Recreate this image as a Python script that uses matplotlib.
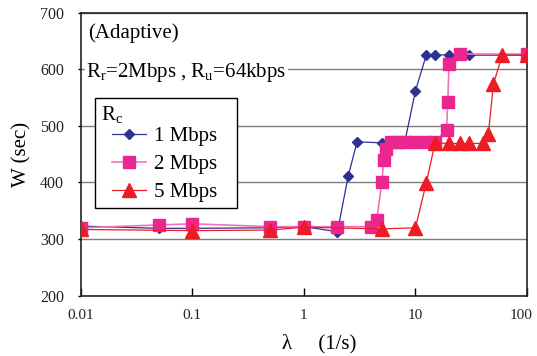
import matplotlib
matplotlib.use("Agg")
import matplotlib.pyplot as plt
import matplotlib.transforms as mtransforms
from matplotlib.offsetbox import HPacker, DrawingArea

plt.rcParams['font.family'] = ['Liberation Serif', 'DejaVu Serif']
plt.rcParams['mathtext.fontset'] = 'custom'
plt.rcParams['mathtext.rm'] = 'Liberation Serif'
plt.rcParams['mathtext.it'] = 'Liberation Serif:italic'

# data (lambda in 1/s, W in sec)
blue_x = [0.01, 0.05, 0.1, 0.5, 1, 2, 2.5, 3, 5, 8, 10, 12.5, 15, 20, 30, 100]
blue_y = [323, 319, 319, 320, 322, 313, 412, 472, 470, 470, 562, 625, 625, 626, 625, 625]

pink_x = [0.01, 0.05, 0.1, 0.5, 1, 2, 4, 4.5, 5, 5.2, 5.5, 6, 7, 8, 10, 12.5, 15,
          19, 19.5, 20, 25, 100]
pink_y = [320, 325, 327, 322, 322, 322, 322, 334, 400, 440, 460, 472, 472, 472, 472,
          472, 472, 493, 543, 609, 627, 627]

red_x = [0.01, 0.1, 0.5, 1, 5, 10, 12.5, 15, 20, 25, 30, 40, 45, 50, 60, 100]
red_y = [317, 315, 316, 321, 318, 320, 399, 470, 469, 469, 469, 469, 485, 574, 625, 625]

labels = ['1 Mbps', '2 Mbps', '5 Mbps']
xticks = [0.01, 0.1, 1, 10, 100]
xticklabels = ['0.01', '0.1', '1', '10', '100']
yticks = [200, 300, 400, 500, 600, 700]

fig = plt.figure(figsize=(5.37, 3.56), dpi=100)
ax = fig.add_axes([0.1503, 0.1694, 0.8311, 0.7949])

ax.plot(blue_x, blue_y, color='#2e3192', lw=0.9, marker='D', ms=5.5,
        mfc='#2e3192', mec='#2e3192', label=labels[0], zorder=3)
ax.plot(pink_x, pink_y, color='#f075b5', lw=1.2, marker='s', ms=8,
        mfc='#ec268f', mec='#ec268f', label=labels[1], zorder=4)
ax.plot(red_x, red_y, color='#ed1c24', lw=0.9, marker='^', ms=9.5,
        mfc='#ed1c24', mec='#ed1c24', label=labels[2], zorder=5)

ax.set_xscale('log')
ax.set_xlim(0.01, 100)
ax.set_ylim(200, 700)
ax.set_xticks(xticks)
ax.set_xticklabels(xticklabels)
ax.minorticks_off()
ax.set_yticks(yticks)
ax.tick_params(axis='x', direction='in', length=6, width=1, pad=9.5, labelsize=11,
               labelcolor='#222222')
ax.tick_params(axis='y', direction='out', length=2, width=1, pad=10, labelsize=11.5,
               labelcolor='#222222')
# the "100" label sits right at the figure edge, nudge it in a little
last = ax.get_xticklabels()[-1]
last.set_transform(last.get_transform() + mtransforms.ScaledTranslation(-4 / 72, 0, fig.dpi_scale_trans))
ax.yaxis.grid(True, color='#7f7f7f', lw=1)
ax.set_axisbelow(True)
for s in ax.spines.values():
    s.set_linewidth(1.2)
    s.set_color('#222222')

ax.set_ylabel('W (sec)', fontsize=15, labelpad=6)
ax.set_xlabel('λ     (1/s)', fontsize=15, labelpad=6)
ax.xaxis.set_label_coords(0.535, -0.135)

ax.text(0.016, 0.928, '(Adaptive)', transform=ax.transAxes, fontsize=15,
        va='center', ha='left')
ax.text(0.012, 0.79, r'R$_{\rm r}$=2Mbps , R$_{\rm u}$=64kbps', transform=ax.transAxes,
        fontsize=15, va='center', ha='left', zorder=6,
        bbox=dict(facecolor='white', edgecolor='none', pad=1))

leg = ax.legend(loc='upper left', bbox_to_anchor=(0.032, 0.699), title=r'R$_{\rm c}$',
                fontsize=15, title_fontsize=15, fancybox=False, framealpha=1,
                edgecolor='black', borderaxespad=0, borderpad=0.3, handlelength=1.6,
                handletextpad=0.4, labelspacing=0.4)
# indent the entries under the title, leave room on the right like the original
box = leg._legend_box
entries = box._children[1]
box._children[1] = HPacker(children=[DrawingArea(8, 0), entries, DrawingArea(10, 0)],
                           pad=0, sep=0, align='baseline')
box.align = 'left'
box.sep = 1
leg.get_frame().set_linewidth(1)
leg.set_zorder(7)

fig.savefig('out.png', dpi=100)
